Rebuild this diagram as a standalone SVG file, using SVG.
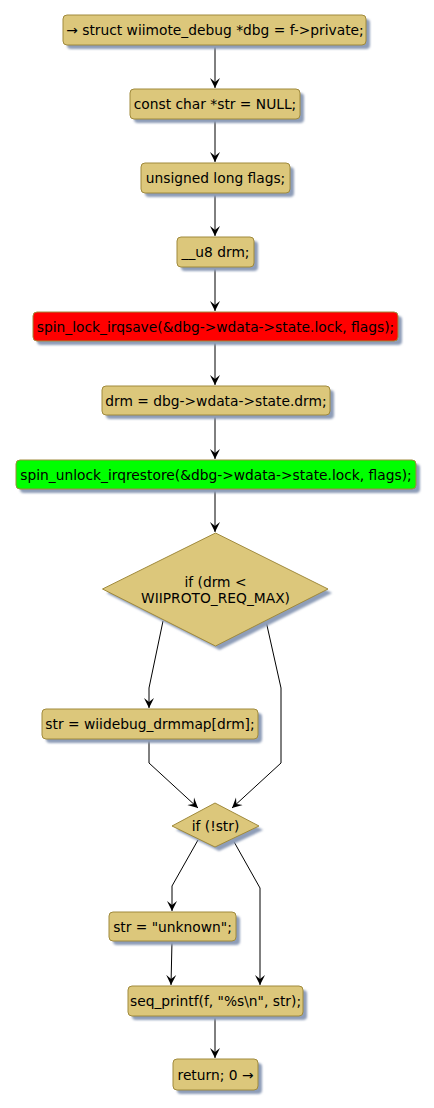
<svg xmlns="http://www.w3.org/2000/svg" width="434" height="1108" viewBox="0 0 434 1108">
<defs>
<style>
.n{fill:#DCC77B;stroke:#A08A3C;stroke-width:1}
.sh{fill:#8E9DB8;filter:url(#b)}
.t{font-family:"DejaVu Sans",sans-serif;font-size:13.8px;fill:#000;text-anchor:middle}
.c{fill:none;stroke:#000;stroke-width:1}
</style>
<filter id="b" x="-10%" y="-10%" width="120%" height="130%"><feGaussianBlur stdDeviation="1"/></filter>
<marker id="a" markerWidth="12" markerHeight="12" refX="10" refY="5" orient="auto" markerUnits="userSpaceOnUse" viewBox="0 0 12 10">
<path d="M0,0 L10,5 L0,10 L4,5 Z" fill="#000"/>
</marker>
</defs>
<rect width="434" height="1108" fill="#fff"/>
<g id="connectors">
<line class="c" x1="215" y1="45" x2="215" y2="88" marker-end="url(#a)"/>
<line class="c" x1="215" y1="119" x2="215" y2="162" marker-end="url(#a)"/>
<line class="c" x1="215" y1="193" x2="215" y2="236" marker-end="url(#a)"/>
<line class="c" x1="215" y1="267" x2="215" y2="311" marker-end="url(#a)"/>
<line class="c" x1="215" y1="341" x2="215" y2="385" marker-end="url(#a)"/>
<line class="c" x1="215" y1="415" x2="215" y2="459" marker-end="url(#a)"/>
<line class="c" x1="215" y1="489" x2="215" y2="532" marker-end="url(#a)"/>
<polyline class="c" points="163,621 149,688 149,708" marker-end="url(#a)"/>
<polyline class="c" points="266,621 281,688 281,763 232,808" marker-end="url(#a)"/>
<polyline class="c" points="149,739 149,763 198,808" marker-end="url(#a)"/>
<polyline class="c" points="198,840 172,886 172,911" marker-end="url(#a)"/>
<polyline class="c" points="233,840 260,888 260,985" marker-end="url(#a)"/>
<polyline class="c" points="172,941 171,985" marker-end="url(#a)"/>
<line class="c" x1="215" y1="1016" x2="215" y2="1058" marker-end="url(#a)"/>
</g>
<g id="n1"><rect class="sh" x="67" y="19" width="303" height="30" rx="4"/><rect class="n" x="63" y="15" width="303" height="30" rx="4"/><text class="t" x="215" y="35">→ struct wiimote_debug *dbg = f-&gt;private;</text></g>
<g id="n2"><rect class="sh" x="134" y="93" width="170" height="30" rx="4"/><rect class="n" x="130" y="89" width="170" height="30" rx="4"/><text class="t" x="215" y="109">const char *str = NULL;</text></g>
<g id="n3"><rect class="sh" x="145" y="167" width="149" height="30" rx="4"/><rect class="n" x="141" y="163" width="149" height="30" rx="4"/><text class="t" x="215.5" y="183">unsigned long flags;</text></g>
<g id="n4"><rect class="sh" x="181" y="241" width="77" height="30" rx="4"/><rect class="n" x="177" y="237" width="77" height="30" rx="4"/><text class="t" x="215.5" y="257">__u8 drm;</text></g>
<g id="n5"><rect class="sh" x="37" y="316" width="365" height="29" rx="4"/><rect class="n" style="fill:#FF0000" x="33" y="312" width="365" height="29" rx="4"/><text class="t" x="215.5" y="331.5">spin_lock_irqsave(&amp;dbg-&gt;wdata-&gt;state.lock, flags);</text></g>
<g id="n6"><rect class="sh" x="106" y="390" width="228" height="29" rx="4"/><rect class="n" x="102" y="386" width="228" height="29" rx="4"/><text class="t" x="216" y="405.5">drm = dbg-&gt;wdata-&gt;state.drm;</text></g>
<g id="n7"><rect class="sh" x="20" y="464" width="400" height="29" rx="4"/><rect class="n" style="fill:#00FF00" x="16" y="460" width="400" height="29" rx="4"/><text class="t" x="216" y="479.5">spin_unlock_irqrestore(&amp;dbg-&gt;wdata-&gt;state.lock, flags);</text></g>
<g id="n8"><polygon class="sh" points="219.5,537 332,593 219.5,650 106.5,593"/><polygon class="n" points="215.5,533 328,589 215.5,646 102.5,589"/><text class="t" x="215.5" y="587">if (drm &lt;</text><text class="t" x="215.5" y="603">WIIPROTO_REQ_MAX)</text></g>
<g id="n9"><rect class="sh" x="46" y="713" width="216" height="30" rx="4"/><rect class="n" x="42" y="709" width="216" height="30" rx="4"/><text class="t" x="150" y="729">str = wiidebug_drmmap[drm];</text></g>
<g id="n10"><polygon class="sh" points="219,807 263,830 219,851 176,830"/><polygon class="n" points="215,803 259,826 215,847 172,826"/><text class="t" x="215.5" y="831">if (!str)</text></g>
<g id="n11"><rect class="sh" x="113" y="916" width="127" height="29" rx="4"/><rect class="n" x="109" y="912" width="127" height="29" rx="4"/><text class="t" x="172.5" y="931.5">str = "unknown";</text></g>
<g id="n12"><rect class="sh" x="132" y="990" width="175" height="30" rx="4"/><rect class="n" x="128" y="986" width="175" height="30" rx="4"/><text class="t" x="215.5" y="1006">seq_printf(f, "%s\n", str);</text></g>
<g id="n13"><rect class="sh" x="177" y="1063" width="85" height="31" rx="4"/><rect class="n" x="173" y="1059" width="85" height="31" rx="4"/><text class="t" x="215.5" y="1079.5">return; 0 →</text></g>
</svg>
